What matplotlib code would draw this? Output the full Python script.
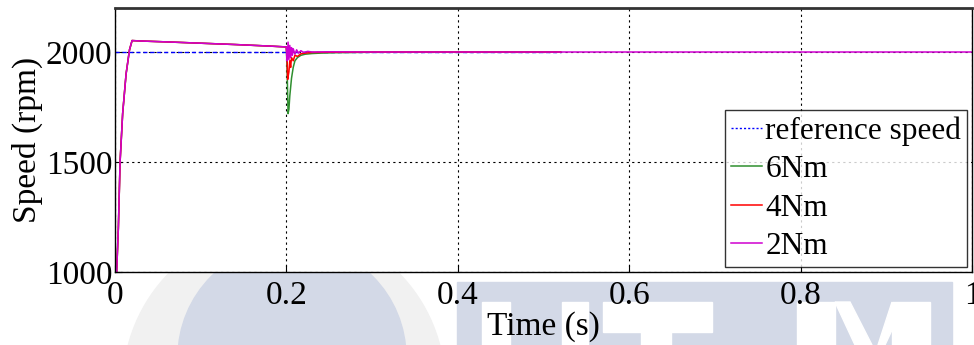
import matplotlib
matplotlib.use("Agg")
import matplotlib.pyplot as plt
from matplotlib.patches import Circle, Rectangle, Polygon

plt.rcParams['font.family'] = ['Liberation Serif', 'DejaVu Serif']

# start-up (same for all load cases)
t_start = [0, 0.002, 0.004, 0.006, 0.009, 0.013, 0.017, 0.02, 0.03, 0.06, 0.1, 0.14, 0.18, 0.2]
w_start = [1000, 1000, 1200, 1500, 1720, 1900, 2010, 2052, 2050, 2046, 2040, 2034, 2027, 2023]

# load step at t = 0.2 s
t_6nm = [0.2, 0.201, 0.202, 0.203, 0.204, 0.206, 0.208, 0.21, 0.213, 0.217, 0.222, 0.23, 0.24, 0.26, 0.3, 0.35, 0.52]
w_6nm = [2023, 1900, 1720, 1740, 1800, 1880, 1930, 1960, 1975, 1985, 1990, 1993, 1995, 1997, 1999, 2000, 2000]

t_4nm = [0.2, 0.201, 0.2015, 0.203, 0.204, 0.205, 0.206, 0.208, 0.21, 0.213, 0.217, 0.222, 0.23, 0.25, 0.3, 0.52]
w_4nm = [2023, 1950, 1875, 1910, 1960, 1930, 1975, 1960, 1985, 1980, 1992, 1995, 1998, 1999, 2000, 2000]

t_2nm = [0.2, 0.201, 0.202, 0.203, 0.204, 0.205, 0.206, 0.207, 0.208, 0.21, 0.212, 0.214, 0.217, 0.22, 0.225, 0.23, 0.25, 0.3, 1.0]
w_2nm = [2023, 1960, 2045, 1965, 2030, 1975, 2020, 1985, 2015, 1990, 2010, 1995, 2006, 1998, 2003, 2000, 2001, 2000, 2000]

t_ref = [0, 0.52]
w_ref = [2000, 2000]

xticks = [0, 0.2, 0.4, 0.6, 0.8, 1]
xtick_labels = ['0', '0.2', '0.4', '0.6', '0.8', '1']
yticks = [1000, 1500, 2000]

fig = plt.figure(figsize=(9.74, 3.45), dpi=100)
H = 345

# faint watermark behind the chart (pixel coords, from the top)
wm = '#d3d9e7'
def px_rect(x0, y0, x1, y1, color):
    fig.patches.append(Rectangle((x0, H - y1), x1 - x0, y1 - y0, transform=None, color=color, zorder=0))

fig.patches.append(Circle((284, H - 386), 161, transform=None, color='#f1f1f1', zorder=0))
fig.patches.append(Circle((292, H - 357), 114, transform=None, color=wm, zorder=0))
px_rect(457, 282, 952, 345, wm)
for x0, y0, x1, y1 in [(482, 302, 510, 345), (562, 302, 588, 345), (603, 302, 712, 332),
                       (641, 332, 671, 345), (797, 302, 835, 345), (892, 302, 930, 345)]:
    px_rect(x0, y0, x1, y1, 'white')
fig.patches.append(Polygon([(835, H - 302), (850, H - 302), (872, H - 345), (855, H - 345)],
                           transform=None, color='white', zorder=0))
fig.patches.append(Polygon([(878, H - 345), (892, H - 302), (892, H - 330), (885, H - 345)],
                           transform=None, color='white', zorder=0))

ax = fig.add_axes([0.118, 0.2116, 0.880, 0.7652])
ax.set_zorder(1)

ax.plot(t_ref, w_ref, color='blue', lw=1.0, ls=(0, (3, 2)), label='reference speed')
ax.plot(t_start + t_6nm[1:], w_start + w_6nm[1:], color='#2f8f2f', lw=1.1, label='6Nm')
ax.plot(t_start + t_4nm[1:], w_start + w_4nm[1:], color='red', lw=1.1, label='4Nm')
ax.plot(t_start + t_2nm[1:], w_start + w_2nm[1:], color='#d000d0', lw=1.1, label='2Nm')

ax.set_xlim(0, 1)
ax.set_ylim(1000, 2200)
ax.set_xticks(xticks)
ax.set_xticklabels(xtick_labels)
ax.set_yticks(yticks)
ax.tick_params(direction='in', length=5, labelsize=24)
ax.tick_params(axis='x', pad=6)
ax.tick_params(axis='y', pad=2)
ax.grid(True, color='black', ls=(0, (2, 3)), lw=0.8)
for s in ax.spines.values():
    s.set_linewidth(1.0)
ax.spines['top'].set_linewidth(2.0)
ax.spines['top'].set_color('#333333')

ax.set_xlabel('Time (s)', fontsize=24, labelpad=0)
ax.set_ylabel('Speed (rpm)', fontsize=24, labelpad=2)

leg = ax.legend(loc='lower right', fontsize=22.5, frameon=True, fancybox=False,
                edgecolor='black', handlelength=1.0, handletextpad=0.1,
                labelspacing=0.3, borderpad=0.2, borderaxespad=0.15)
leg.get_frame().set_linewidth(1.0)
leg.get_lines()[0].set_linestyle((0, (1.5, 1.5)))

fig.savefig('out.png', dpi=100)
